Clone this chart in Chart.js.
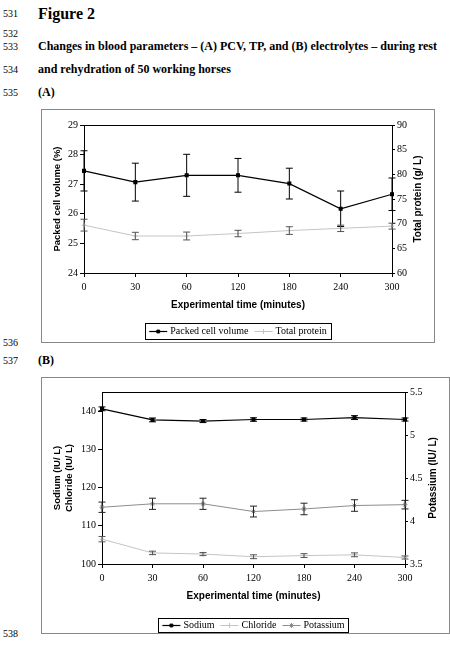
<!DOCTYPE html>
<html>
<head>
<meta charset="utf-8">
<script src="https://cdn.jsdelivr.net/npm/chart.js@4.4.0/dist/chart.umd.min.js"></script>
<style>
  body { margin: 0; background: #fff; font-family: "Liberation Serif", serif; color: #000; }
  #page { position: relative; width: 450px; height: 668px; overflow: hidden; }
  .t { position: absolute; white-space: nowrap; font-size: 10px; line-height: 12px; }
  .b { font-weight: bold; font-size: 12px; line-height: 13px; }
  .box { position: absolute; border: 1.5px solid #888; box-sizing: border-box; }
  .wrap { position: absolute; }
</style>
</head>
<body>
<div id="page">
  <div class="t" style="left:3px;top:8px;">531</div>
  <div class="t" style="left:38px;top:4px;font-size:16px;line-height:20px;font-weight:bold;">Figure 2</div>
  <div class="t" style="left:3px;top:28px;">532</div>
  <div class="t" style="left:3px;top:41px;">533</div>
  <div class="t b" style="left:38px;top:40px;">Changes in blood parameters – (A) PCV, TP, and (B) electrolytes – during rest</div>
  <div class="t" style="left:3px;top:64px;">534</div>
  <div class="t b" style="left:38px;top:63px;">and rehydration of 50 working horses</div>
  <div class="t" style="left:3px;top:87px;">535</div>
  <div class="t b" style="left:38px;top:86px;">(A)</div>

  <div class="box" style="left:41px;top:109px;width:394px;height:234px;"></div>
  <div class="wrap" style="left:41px;top:110px;"><canvas id="chartA" width="393" height="232"></canvas></div>

  <div class="t" style="left:3px;top:337px;">536</div>
  <div class="t" style="left:3px;top:355px;">537</div>
  <div class="t b" style="left:38px;top:354px;">(B)</div>

  <div class="box" style="left:41px;top:377px;width:409px;height:257px;"></div>
  <div class="wrap" style="left:41px;top:378px;"><canvas id="chartB" width="408" height="255"></canvas></div>

  <div class="t" style="left:3px;top:628px;">538</div>
</div>

<script>
// ---- data ----
const timeLabels = ['0', '30', '60', '120', '180', '240', '300'];

const pcv = [27.45, 27.07, 27.3, 27.3, 27.02, 26.17, 26.66];
const pcvErr = [0.68, 0.64, 0.71, 0.57, 0.52, 0.6, 0.55];
const totalProtein = [69.7, 67.5, 67.5, 68.0, 68.6, 69.05, 69.5];
const totalProteinErr = [1.2, 0.75, 0.8, 0.65, 0.78, 0.65, 0.6];

const sodium = [140.6, 137.7, 137.4, 137.8, 137.8, 138.3, 137.8];
const sodiumErr = [0.5, 0.5, 0.4, 0.45, 0.4, 0.5, 0.4];
const chloride = [106.5, 102.9, 102.6, 101.9, 102.2, 102.4, 101.7];
const chlorideErr = [0.7, 0.45, 0.4, 0.5, 0.5, 0.5, 0.4];
const potassium = [4.16, 4.2, 4.2, 4.11, 4.14, 4.18, 4.19];
const potassiumErr = [0.06, 0.065, 0.065, 0.063, 0.067, 0.067, 0.05];

const pcvTicks = [24, 29, 1];
const tpTicks = [60, 90, 5];
const naClTicks = [100, 145, 10];
const kTicks = [3.5, 5.5, 0.5];

Chart.defaults.font.family = '"Liberation Serif", serif';
Chart.defaults.font.size = 10;
Chart.defaults.color = '#000';

const titleFont = { family: '"Liberation Sans", Arial, sans-serif', size: 10, weight: 'bold' };

// vertical error bars with caps
const errorBars = {
    id: 'errorBars',
    afterDatasetsDraw(chart) {
        const ctx = chart.ctx;
        chart.data.datasets.forEach((ds, i) => {
            if (!ds.errors) return;
            const meta = chart.getDatasetMeta(i);
            const yScale = chart.scales[ds.yAxisID];
            ctx.save();
            ctx.strokeStyle = ds.errorColor || '#000';
            ctx.lineWidth = 1;
            meta.data.forEach((pt, j) => {
                const top = yScale.getPixelForValue(ds.data[j] + ds.errors[j]);
                const bot = yScale.getPixelForValue(ds.data[j] - ds.errors[j]);
                ctx.beginPath();
                ctx.moveTo(pt.x, top); ctx.lineTo(pt.x, bot);
                ctx.moveTo(pt.x - 3.5, top); ctx.lineTo(pt.x + 3.5, top);
                ctx.moveTo(pt.x - 3.5, bot); ctx.lineTo(pt.x + 3.5, bot);
                ctx.stroke();
            });
            ctx.restore();
        });
    }
};

// top frame line + right axis title (reads bottom to top) + boxed legend
const extras = {
    id: 'extras',
    afterDraw(chart, args, opts) {
        const ctx = chart.ctx;
        const area = chart.chartArea;
        ctx.save();
        ctx.strokeStyle = '#000';
        ctx.lineWidth = 1;
        ctx.beginPath();
        ctx.moveTo(area.left, area.top + 0.5);
        ctx.lineTo(area.right, area.top + 0.5);
        ctx.stroke();

        // right title
        ctx.font = 'bold 10px "Liberation Sans", Arial, sans-serif';
        ctx.fillStyle = '#000';
        ctx.textAlign = 'center';
        ctx.textBaseline = 'middle';
        ctx.translate(opts.rightTitleX, (area.top + area.bottom) / 2);
        ctx.rotate(-Math.PI / 2);
        ctx.fillText(opts.rightTitle, 0, 0);
        ctx.restore();

        // legend
        ctx.save();
        ctx.font = '10px "Liberation Serif", serif';
        const sample = 18, gap = 3, pad = 4, itemGap = 6;
        const items = chart.data.datasets.map(ds => ({ ds, w: sample + gap + ctx.measureText(ds.label).width }));
        const total = items.reduce((s, it) => s + it.w, 0) + itemGap * (items.length - 1) + pad * 2;
        let x = (area.left + area.right) / 2 - total / 2;
        const y = opts.legendY, h = opts.legendH;
        ctx.strokeStyle = '#000';
        ctx.lineWidth = 1;
        ctx.strokeRect(Math.round(x) + 0.5, y + 0.5, Math.round(total), h);
        x += pad;
        const cy = y + h / 2 + 0.5;
        items.forEach(it => {
            const ds = it.ds;
            ctx.strokeStyle = ds.borderColor;
            ctx.lineWidth = ds.borderWidth;
            ctx.beginPath();
            ctx.moveTo(x, cy); ctx.lineTo(x + sample, cy);
            ctx.stroke();
            ctx.fillStyle = ds.pointBackgroundColor;
            ctx.strokeStyle = ds.pointBorderColor;
            ctx.lineWidth = 1;
            Chart.helpers.drawPoint(ctx, { pointStyle: ds.pointStyle, radius: ds.pointRadius, rotation: 0, borderWidth: 1 }, x + sample / 2, cy);
            ctx.fillStyle = '#000';
            ctx.textAlign = 'left';
            ctx.textBaseline = 'middle';
            ctx.fillText(ds.label, x + sample + gap, cy);
            x += it.w + itemGap;
        });
        ctx.restore();
    }
};

function xAxis() {
    return {
        type: 'category',
        offset: false,
        grid: { display: true, drawOnChartArea: false, tickLength: 4, color: '#000' },
        border: { color: '#000', width: 1 },
        ticks: { padding: 4, maxRotation: 0 },
        title: { display: true, text: 'Experimental time (minutes)', font: titleFont, padding: { top: 0, bottom: 31 } },
        afterFit: s => { s.height = 69; }
    };
}

function yAxis(position, range, width, extra) {
    const axis = {
        type: 'linear',
        position: position,
        min: range[0],
        max: range[1],
        grid: { display: true, drawOnChartArea: false, tickLength: position === 'left' ? 4 : 3, color: '#000' },
        border: { color: '#000', width: 1 },
        ticks: { stepSize: range[2], padding: 2, callback: v => String(v) },
        afterFit: s => { s.width = width; }
    };
    return Object.assign(axis, extra || {});
}

function lineSet(label, data, errors, axis, color, errColor, style, radius, width) {
    return {
        label: label,
        data: data,
        errors: errors,
        errorColor: errColor,
        yAxisID: axis,
        borderColor: color,
        borderWidth: width,
        pointBackgroundColor: color,
        pointBorderColor: color,
        pointStyle: style,
        pointRadius: radius,
        tension: 0
    };
}

new Chart(document.getElementById('chartA'), {
    type: 'line',
    data: {
        labels: timeLabels,
        datasets: [
            lineSet('Packed cell volume', pcv, pcvErr, 'y', '#000', '#000', 'rect', 2, 1.2),
            lineSet('Total protein', totalProtein, totalProteinErr, 'y1', '#c4c4c4', '#555', 'cross', 2.5, 1)
        ]
    },
    options: {
        responsive: false,
        animation: false,
        layout: { padding: { top: 15, left: 0, right: 0, bottom: 0 } },
        scales: {
            x: xAxis(),
            y: yAxis('left', pcvTicks, 43, {
                title: { display: true, text: 'Packed cell volume (%)', font: Object.assign({}, titleFont, { size: 9.5 }), padding: { top: 11, bottom: 0 } }
            }),
            y1: yAxis('right', tpTicks, 42)
        },
        plugins: {
            legend: { display: false },
            tooltip: { enabled: false },
            extras: { rightTitle: 'Total protein (g/ L)', rightTitleX: 377, legendY: 213, legendH: 16 }
        }
    },
    plugins: [errorBars, extras]
});

new Chart(document.getElementById('chartB'), {
    type: 'line',
    data: {
        labels: timeLabels,
        datasets: [
            lineSet('Sodium', sodium, sodiumErr, 'y', '#000', '#000', 'rect', 2, 1.2),
            lineSet('Chloride', chloride, chlorideErr, 'y', '#c4c4c4', '#555', 'cross', 2.5, 1),
            lineSet('Potassium', potassium, potassiumErr, 'y1', '#8c8c8c', '#222', 'star', 2.5, 1)
        ]
    },
    options: {
        responsive: false,
        animation: false,
        layout: { padding: { top: 14, left: 0, right: 0, bottom: 0 } },
        scales: {
            x: xAxis(),
            y: yAxis('left', naClTicks, 61, {
                afterBuildTicks: s => { s.ticks = s.ticks.filter(t => t.value !== 145); },
                title: { display: true, text: ['Sodium (IU/ L)', 'Chloride (IU/ L)'], font: Object.assign({}, titleFont, { size: 9.5 }), padding: { top: 11, bottom: 0 } }
            }),
            y1: yAxis('right', kTicks, 44)
        },
        plugins: {
            legend: { display: false },
            tooltip: { enabled: false },
            extras: { rightTitle: 'Potassium (IU/ L)', rightTitleX: 392, legendY: 240, legendH: 14 }
        }
    },
    plugins: [errorBars, extras]
});
</script>
</body>
</html>
